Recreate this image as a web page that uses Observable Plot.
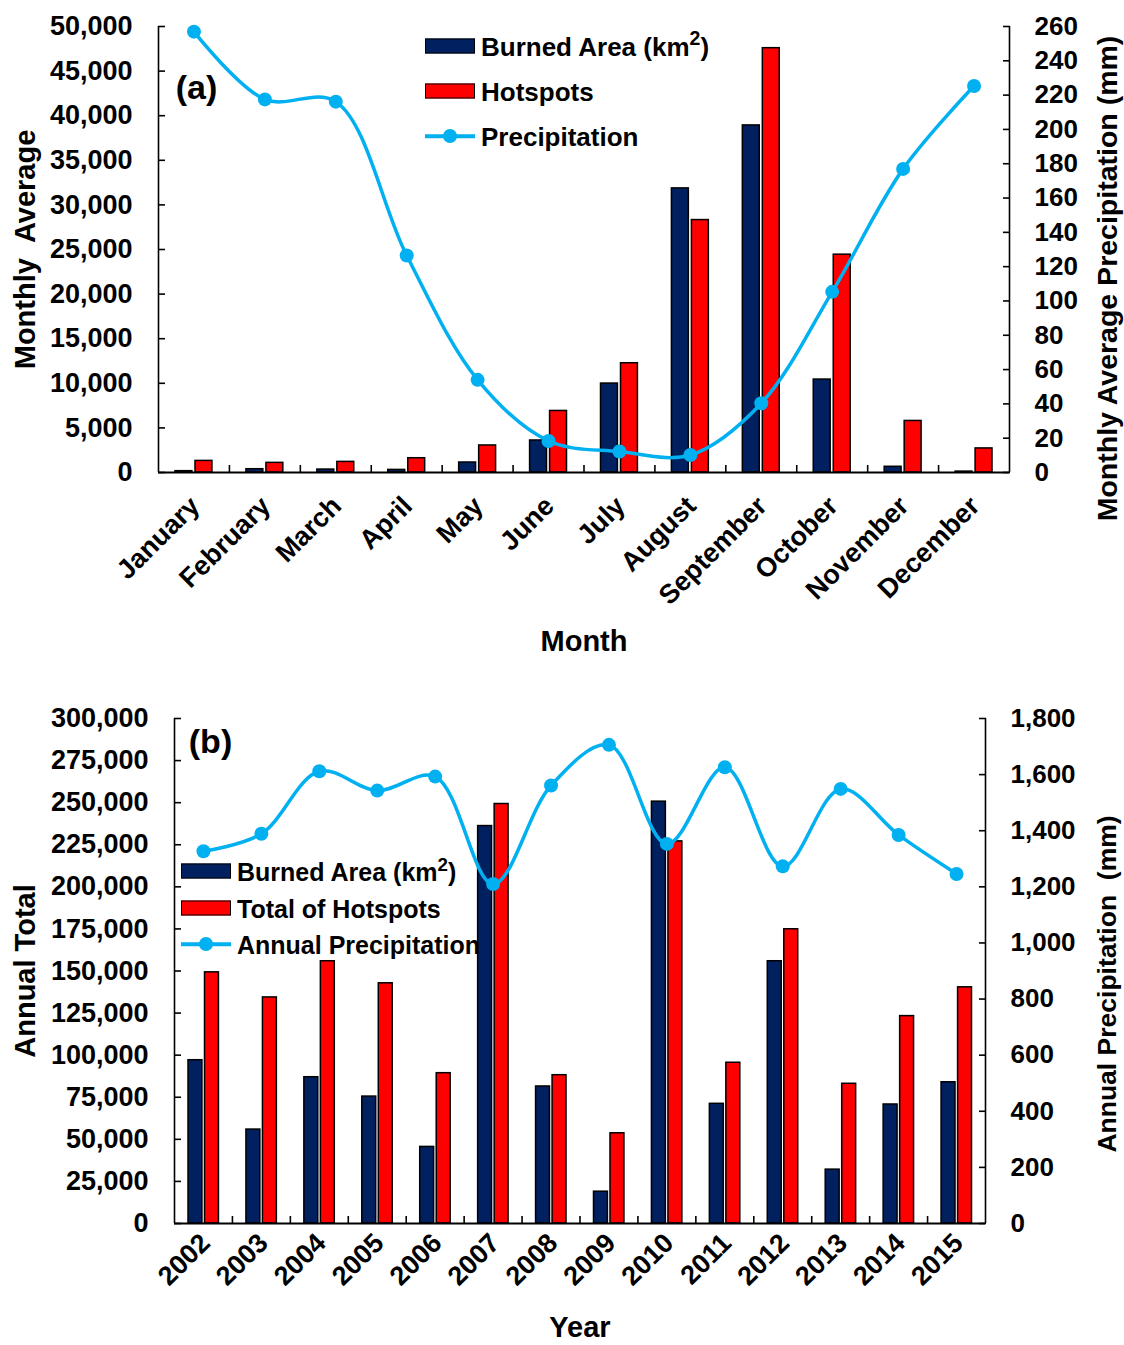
<!DOCTYPE html>
<html>
<head>
<meta charset="utf-8">
<script src="https://cdn.jsdelivr.net/npm/d3@7"></script>
<script src="https://cdn.jsdelivr.net/npm/@observablehq/plot@0.6"></script>
<style>
  body { margin: 0; background: white; }
  #wrap { position: relative; width: 1124px; height: 1345px; font-family: 'Liberation Sans', Arial, sans-serif; font-weight: bold; color: black; }
  #wrap svg { display: block; }
  .lg { position: absolute; white-space: nowrap; line-height: 1; transform: translateY(-50%); }
  .sw { position: absolute; box-sizing: border-box; border: 1.5px solid black; transform: translateY(-50%); }
  .ln { position: absolute; height: 3.5px; background: #00B0F0; transform: translateY(-50%); }
  .dt { position: absolute; width: 14px; height: 14px; border-radius: 50%; background: #00B0F0; transform: translate(-50%, -50%); }
  sup { font-size: 75%; vertical-align: 0; position: relative; top: -0.55em; }
</style>
</head>
<body>
<div id="wrap"><div id="a"></div><div id="b"></div></div>
<script>
// ---------- data: panel (a) monthly averages ----------
const months = ["January","February","March","April","May","June","July","August","September","October","November","December"];
const burnedMonthly   = [150, 370, 330, 290, 1120, 3590, 9970, 31850, 38910, 10420, 640, 100];
const hotspotsMonthly = [1300, 1080, 1190, 1600, 3030, 6900, 12250, 28300, 47570, 24420, 5780, 2700];
const precipMonthly   = [257, 217.5, 216.2, 126.5, 54, 18.4, 12.2, 10.2, 40.4, 105.3, 177, 225.3];
const monthlyLeftTicks  = d3.range(0, 50001, 5000);
const monthlyRightTicks = d3.range(0, 261, 20);

// ---------- data: panel (b) annual totals ----------
const years = ["2002","2003","2004","2005","2006","2007","2008","2009","2010","2011","2012","2013","2014","2015"];
const burnedAnnual   = [97000, 55800, 86900, 75400, 45500, 236100, 81400, 18900, 250600, 71100, 155800, 32000, 70700, 83900];
const hotspotsAnnual = [149200, 134300, 155800, 142700, 89300, 249200, 88100, 53600, 227000, 95500, 174800, 83000, 123200, 140300];
const precipAnnual   = [1327, 1389, 1612, 1543, 1593, 1210, 1561, 1706, 1353, 1626, 1273, 1549, 1385, 1246];
const annualLeftTicks  = d3.range(0, 300001, 25000);
const annualRightTicks = d3.range(0, 1801, 200);

const legendA = ["Burned Area (km<sup>2</sup>)", "Hotspots", "Precipitation"];
const legendB = ["Burned Area (km<sup>2</sup>)", "Total of Hotspots", "Annual Precipitation"];

const NAVY = "#002060", RED = "#FF0000", BLUE = "#00B0F0";
const W = 1124;
const fmt = d3.format(",");

function panel(cfg) {
  const {cats, burned, hot, precip, leftTicks, rightTicks, H, mt, mb, ml, mr,
         insets, leftTitle, rightTitle, bottomTitle, tag, titleOffsets, xLab, rightTitleSize} = cfg;
  const yMax = leftTicks[leftTicks.length - 1];
  const rMax = rightTicks[rightTicks.length - 1];
  const k = yMax / rMax;
  const plotH = H - mt - mb;
  const bw = (W - ml - mr) / cats.length;
  const tickLen = 7 * yMax / plotH;
  const data = cats.map((c, i) => ({cat: c, burned: burned[i], hot: hot[i], precip: precip[i] * k}));
  const axisStroke = {stroke: "black", strokeWidth: 1.6};
  const title = {textAnchor: "middle", lineAnchor: "middle", fontWeight: "bold"};
  return Plot.plot({
    width: W, height: H, marginTop: mt, marginBottom: mb, marginLeft: ml, marginRight: mr,
    style: {fontFamily: "'Liberation Sans', Arial, sans-serif", fontWeight: "bold", fontSize: "27px", color: "black", background: "white", overflow: "visible"},
    x: {type: "band", domain: cats, padding: 0, round: false, axis: null},
    y: {domain: [0, yMax], axis: null},
    marks: [
      Plot.barY(data, {x: "cat", y: "burned", fill: NAVY, stroke: "black", strokeWidth: 1.5, insetLeft: insets[0], insetRight: insets[1]}),
      Plot.barY(data, {x: "cat", y: "hot", fill: RED, stroke: "black", strokeWidth: 1.5, insetLeft: insets[2], insetRight: insets[3]}),
      // axis lines
      Plot.ruleY([0], {...axisStroke, strokeWidth: 2}),
      Plot.ruleX([cats[0]], {x: d => d, dx: -bw / 2, y1: 0, y2: yMax, ...axisStroke}),
      Plot.ruleX([cats[cats.length - 1]], {x: d => d, dx: bw / 2, y1: 0, y2: yMax, ...axisStroke}),
      // category boundary ticks (inward)
      Plot.ruleX(cats.slice(1), {x: d => d, dx: -bw / 2, y1: 0, y2: tickLen, ...axisStroke}),
      // precipitation line
      Plot.line(data, {x: "cat", y: "precip", stroke: BLUE, strokeWidth: 3.5, curve: "catmull-rom"}),
      Plot.dot(data, {x: "cat", y: "precip", r: 7, fill: BLUE}),
      // axes
      Plot.axisY({ticks: leftTicks, tickFormat: fmt, tickSize: -7, tickPadding: 33, strokeWidth: 1.6, fontSize: 27, label: null}),
      Plot.axisY({anchor: "right", ticks: rightTicks.map(v => v * k), tickFormat: v => fmt(Math.round(v / k)), tickSize: -7, tickPadding: 32, strokeWidth: 1.6, fontSize: 26, label: null}),
      Plot.axisX({tickRotate: -45, tickSize: 0, tickPadding: xLab.pad, dx: xLab.dx, fontSize: xLab.size, label: null}),
      // titles
      Plot.text([leftTitle], {text: d => d, frameAnchor: "left", rotate: -90, dx: titleOffsets.left[0], dy: titleOffsets.left[1], fontSize: 29, ...title}),
      Plot.text([rightTitle], {text: d => d, frameAnchor: "right", rotate: -90, dx: titleOffsets.right[0], dy: titleOffsets.right[1], fontSize: rightTitleSize, ...title}),
      Plot.text([bottomTitle], {text: d => d, frameAnchor: "bottom", dy: titleOffsets.bottom, fontSize: 29, ...title}),
      Plot.text([tag], {text: d => d, frameAnchor: "top-left", dx: titleOffsets.tag[0], dy: titleOffsets.tag[1], fontSize: 34, ...title})
    ]
  });
}

document.getElementById("a").append(panel({
  cats: months, burned: burnedMonthly, hot: hotspotsMonthly, precip: precipMonthly,
  leftTicks: monthlyLeftTicks, rightTicks: monthlyRightTicks,
  H: 680, mt: 26, mb: 680 - 472, ml: 158, mr: W - 1009,
  insets: [17, 37, 37, 17], xLab: {pad: 29, dx: 1, size: 27},
  leftTitle: "Monthly  Average", rightTitle: "Monthly Average Precipitation (mm)", bottomTitle: "Month", tag: "(a)",
  rightTitleSize: 28.5,
  titleOffsets: {left: [-133, 0], right: [98, 29], bottom: 169, tag: [38, 62]}
}));

document.getElementById("b").append(panel({
  cats: years, burned: burnedAnnual, hot: hotspotsAnnual, precip: precipAnnual,
  leftTicks: annualLeftTicks, rightTicks: annualRightTicks,
  H: 665, mt: 38, mb: 122, ml: 174, mr: W - 985,
  insets: [14, 30, 30.5, 13.5], xLab: {pad: 15, dx: 2, size: 27},
  leftTitle: "Annual Total", rightTitle: "Annual Precipitation  (mm)", bottomTitle: "Year", tag: "(b)",
  rightTitleSize: 26.5,
  titleOffsets: {left: [-149, 0], right: [122, 13], bottom: 104, tag: [36, 24]}
}));

// ---------- legends (HTML overlay) ----------
function legend(labels, swLeft, textLeft, rows, size) {
  const wrap = document.getElementById("wrap");
  const fills = [NAVY, RED];
  labels.forEach((lab, i) => {
    const y = rows[i];
    if (i < 2) {
      const s = document.createElement("div");
      s.className = "sw";
      Object.assign(s.style, {left: swLeft + "px", top: y + "px", width: "50px", height: "15px", background: fills[i]});
      wrap.append(s);
    } else {
      const l = document.createElement("div");
      l.className = "ln";
      Object.assign(l.style, {left: swLeft + "px", top: y + "px", width: "50px"});
      wrap.append(l);
      const d = document.createElement("div");
      d.className = "dt";
      Object.assign(d.style, {left: (swLeft + 25) + "px", top: y + "px"});
      wrap.append(d);
    }
    const t = document.createElement("div");
    t.className = "lg";
    t.innerHTML = lab;
    Object.assign(t.style, {left: textLeft + "px", top: (y + 1) + "px", fontSize: size + "px"});
    wrap.append(t);
  });
}
legend(legendA, 425, 481, [46, 91, 136], 26);
legend(legendB, 181, 237, [871, 908, 944], 25);
</script>
</body>
</html>
